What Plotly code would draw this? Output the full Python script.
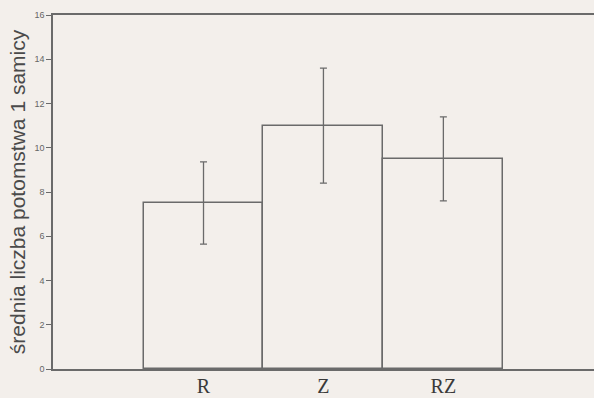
import plotly.graph_objects as go

categories = ["R", "Z", "RZ"]
means = [7.5, 11.0, 9.5]
errors = [1.86, 2.6, 1.9]
y_ticks = [0, 2, 4, 6, 8, 10, 12, 14, 16]
y_title = "średnia liczba potomstwa 1 samicy"

bg = "#f3efeb"
line_col = "#6a6a6a"

fig = go.Figure()
fig.add_trace(go.Bar(
    x=[0, 1, 2],
    y=means,
    width=1,
    marker=dict(color=bg, line=dict(color=line_col, width=1.5)),
    error_y=dict(type="data", array=errors, visible=True, color=line_col,
                 thickness=1.3, width=3.5),
    showlegend=False,
    hoverinfo="skip",
))

fig.update_layout(
    width=594, height=398,
    margin=dict(l=53, r=0, t=15, b=29, pad=0),
    paper_bgcolor=bg, plot_bgcolor=bg,
    bargap=0,
    xaxis=dict(
        range=[-1.255, 3.256],
        automargin=False,
        tickmode="array", tickvals=[0, 1, 2], ticktext=categories,
        showline=True, linecolor=line_col, linewidth=1.5, mirror=True,
        showgrid=False, zeroline=False, ticks="",
        ticklabelstandoff=-2,
        tickfont=dict(family="Liberation Serif", size=20, color="#3a3a3a"),
    ),
    yaxis=dict(
        range=[0, 16],
        automargin=False,
        tickmode="array", tickvals=y_ticks,
        showline=True, linecolor=line_col, linewidth=1.5,
        showgrid=False, zeroline=False,
        ticks="outside", ticklen=5, tickcolor=line_col, tickwidth=1.2,
        tickfont=dict(family="Liberation Sans", size=9, color="#666666"),
        title=dict(text=y_title, standoff=3,
                   font=dict(family="Liberation Sans", size=21, color="#4a4a4a")),
    ),
)

fig.write_html(
    "out.html",
    config={"displayModeBar": False},
    post_script="document.body.style.margin='0';document.body.style.background='#f3efeb';document.body.style.overflow='hidden';",
)
